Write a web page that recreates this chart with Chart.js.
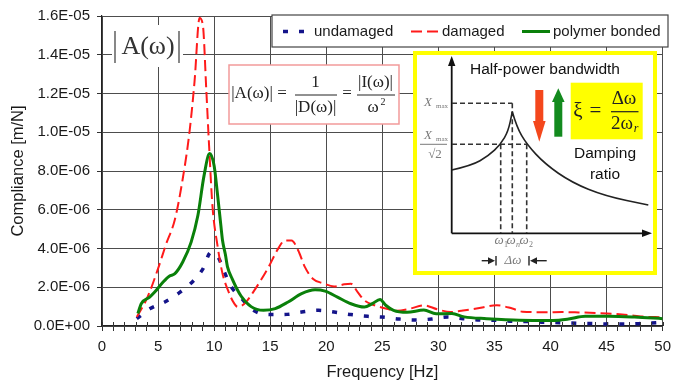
<!DOCTYPE html>
<html>
<head>
<meta charset="utf-8">
<script src="https://cdn.jsdelivr.net/npm/chart.js@4.4.1/dist/chart.umd.min.js"></script>
<style>
  html, body { margin: 0; padding: 0; background: #fff; }
</style>
</head>
<body>
<canvas id="chart" width="678" height="383"></canvas>
<script>
// values, compliance in units of 1E-06 m/N
const undamagedHz = [3.1, 4.3, 5.6, 6.9, 8.1, 9.0, 9.7, 10.4, 10.9, 11.5, 12.4, 13.5, 15.0, 16.5, 17.8, 19.3, 20.7, 22.2, 23.7, 25.0, 26.5, 27.9, 29.4, 30.8, 32.2, 33.7, 35.2, 36.6, 38.1, 39.4, 40.9, 42.3, 43.7, 45.2, 46.7, 48.2, 49.6];
const undamagedVal = [0.38, 0.9, 1.24, 1.72, 2.3, 2.95, 3.8, 3.5, 2.8, 2.05, 1.45, 0.81, 0.59, 0.6, 0.72, 0.81, 0.72, 0.59, 0.5, 0.46, 0.36, 0.31, 0.36, 0.46, 0.38, 0.31, 0.29, 0.25, 0.23, 0.19, 0.17, 0.14, 0.13, 0.1, 0.1, 0.13, 0.17];

const damagedHz = [3.1, 4.0, 5.0, 5.7, 6.5, 7.2, 7.8, 8.25, 8.7, 9.0, 9.3, 9.55, 9.85, 10.3, 10.75, 11.3, 11.7, 12.1, 12.7, 13.6, 14.85, 15.7, 16.3, 16.9, 17.5, 18.1, 18.8, 19.7, 20.7, 21.6, 22.2, 22.8, 23.4, 24.3, 25.3, 26.3, 27.5, 28.7, 29.9, 31.1, 32.2, 33.4, 35.2, 36.6, 37.5, 39.6, 41.0, 42.5, 44.0, 45.5, 47.2, 48.4, 49.8];
const damagedVal = [0.46, 1.41, 2.96, 4.2, 5.5, 7.6, 10.0, 12.6, 15.9, 15.5, 12.2, 9.3, 6.2, 4.15, 2.7, 1.75, 1.25, 0.99, 1.15, 1.85, 3.04, 3.98, 4.41, 4.41, 3.9, 3.04, 2.44, 2.21, 2.04, 2.15, 2.18, 1.75, 1.32, 1.07, 0.9, 0.79, 0.9, 1.07, 0.86, 0.72, 0.8, 0.9, 1.07, 0.9, 0.74, 0.71, 0.72, 0.7, 0.67, 0.63, 0.55, 0.48, 0.45];

const bondedHz = [3.2, 3.5, 4.25, 4.7, 5.45, 6.0, 6.5, 7.2, 7.95, 8.55, 9.1, 9.6, 10.0, 10.3, 10.6, 10.75, 11.0, 11.2, 11.6, 12.4, 13.3, 14.4, 15.45, 16.6, 17.8, 19.0, 19.9, 21.0, 22.2, 23.4, 24.1, 24.8, 25.3, 26.0, 27.2, 28.7, 29.8, 31.2, 32.3, 34.3, 37.2, 40.2, 41.6, 43.1, 45.2, 47.5, 50.0];
const bondedVal = [0.64, 1.15, 1.49, 1.75, 2.27, 2.57, 2.7, 3.3, 4.33, 5.7, 7.76, 8.9, 8.27, 6.8, 5.19, 4.41, 3.7, 3.04, 2.45, 1.55, 1.0, 0.81, 0.9, 1.24, 1.67, 1.87, 1.8, 1.49, 1.15, 0.98, 1.15, 1.37, 1.07, 0.81, 0.71, 0.82, 0.63, 0.64, 0.47, 0.38, 0.3, 0.29, 0.36, 0.5, 0.5, 0.46, 0.38];

const seriesNames = ['undamaged', 'damaged', 'polymer bonded'];
const yStep = 2;     // 2.0E-06
const yMax = 16;     // 1.6E-05
const xMax = 50;

const sans = '"Liberation Sans", Arial, sans-serif';
const serif = '"Liberation Serif", "Times New Roman", serif';

function sci(v) {
    const parts = v.toExponential(1).split('e');
    const n = parseInt(parts[1], 10);
    return parts[0] + 'E' + (n < 0 ? '-' : '+') + String(Math.abs(n)).padStart(2, '0');
}

function pairs(xs, ys) {
    return xs.map((x, i) => ({ x: x, y: ys[i] }));
}

function line(ctx, x1, y1, x2, y2) {
    ctx.beginPath();
    ctx.moveTo(x1, y1);
    ctx.lineTo(x2, y2);
    ctx.stroke();
}

function tri(ctx, pts) {
    ctx.beginPath();
    ctx.moveTo(pts[0], pts[1]);
    ctx.lineTo(pts[2], pts[3]);
    ctx.lineTo(pts[4], pts[5]);
    ctx.closePath();
    ctx.fill();
}

function smooth(ctx, pts) {
    ctx.beginPath();
    ctx.moveTo(pts[0][0], pts[0][1]);
    for (let i = 1; i < pts.length - 1; i++) {
        const mx = (pts[i][0] + pts[i + 1][0]) / 2;
        const my = (pts[i][1] + pts[i + 1][1]) / 2;
        ctx.quadraticCurveTo(pts[i][0], pts[i][1], mx, my);
    }
    const last = pts[pts.length - 1];
    ctx.lineTo(last[0], last[1]);
    ctx.stroke();
}

// legend, formula boxes and the half-power inset
const overlay = {
    id: 'overlay',
    afterDraw(chart) {
        const ctx = chart.ctx;
        const ca = chart.chartArea;
        const xs = chart.scales.x;
        ctx.save();

        // minor ticks crossing the x axis
        ctx.strokeStyle = '#333';
        ctx.lineWidth = 1;
        for (let v = 0; v <= xMax; v++) {
            const px = Math.round(xs.getPixelForValue(v)) + 0.5;
            line(ctx, px, ca.bottom, px, ca.bottom - 4);
        }

        // legend
        ctx.fillStyle = '#fff';
        ctx.fillRect(272, 15, 396, 32);
        ctx.strokeStyle = '#444';
        ctx.lineWidth = 1.2;
        ctx.strokeRect(272, 15, 396, 32);
        const sampleX = [283, 411, 522];
        ctx.font = '15px ' + sans;
        ctx.textBaseline = 'middle';
        ctx.textAlign = 'left';
        chart.data.datasets.forEach((ds, i) => {
            ctx.strokeStyle = ds.borderColor;
            ctx.lineWidth = ds.borderWidth;
            ctx.setLineDash(ds.borderDash || []);
            line(ctx, sampleX[i], 31.5, sampleX[i] + 28, 31.5);
            ctx.setLineDash([]);
            ctx.fillStyle = '#1a1a1a';
            ctx.fillText(ds.label, sampleX[i] + 31, 32);
        });

        // |A(w)| label
        ctx.fillStyle = '#fff';
        ctx.fillRect(112, 25, 71, 42);
        ctx.fillStyle = '#333';
        ctx.textAlign = 'center';
        ctx.font = '26px ' + serif;
        ctx.fillText('A(ω)', 148, 47);
        ctx.strokeStyle = '#555';
        ctx.lineWidth = 1.4;
        line(ctx, 115, 31, 115, 63);
        line(ctx, 179, 31, 179, 63);

        // |A| = 1/|D| = |I|/w^2
        ctx.fillStyle = '#fff';
        ctx.fillRect(229, 65, 170, 59);
        ctx.strokeStyle = '#f29a9a';
        ctx.lineWidth = 1.5;
        ctx.strokeRect(229, 65, 170, 59);
        ctx.fillStyle = '#222';
        ctx.font = '17px ' + serif;
        ctx.fillText('|A(ω)|', 252, 94);
        ctx.fillText('=', 282, 94);
        ctx.fillText('1', 315.5, 83);
        ctx.fillText('|D(ω)|', 315.5, 108);
        ctx.fillText('=', 347, 94);
        ctx.fillText('|I(ω)|', 375.5, 83);
        ctx.fillText('ω', 373, 108);
        ctx.font = '10px ' + serif;
        ctx.fillText('2', 383, 102);
        ctx.strokeStyle = '#222';
        ctx.lineWidth = 1;
        line(ctx, 295, 95, 337, 95);
        line(ctx, 357, 95, 395, 95);

        // inset frame
        ctx.fillStyle = '#fff';
        ctx.fillRect(413, 51, 244, 224);
        ctx.strokeStyle = '#ffff00';
        ctx.lineWidth = 4;
        ctx.strokeRect(415, 53, 240, 220);

        // inset axes
        ctx.strokeStyle = '#111';
        ctx.fillStyle = '#111';
        ctx.lineWidth = 1.8;
        line(ctx, 451.7, 233.3, 451.7, 63);
        line(ctx, 451.7, 233.3, 645, 233.3);
        tri(ctx, [451.7, 56, 448, 66, 455.4, 66]);
        tri(ctx, [652, 233.3, 642, 229.5, 642, 237.1]);

        // dashed guides
        ctx.strokeStyle = '#333';
        ctx.lineWidth = 1.6;
        ctx.setLineDash([5, 3]);
        line(ctx, 452, 103.3, 512.3, 103.3);
        line(ctx, 512.3, 103.3, 512.3, 233);
        line(ctx, 452, 144.3, 526.7, 144.3);
        line(ctx, 500.7, 144.3, 500.7, 233);
        line(ctx, 526.7, 144.3, 526.7, 233);
        ctx.setLineDash([]);

        // resonance sketch
        ctx.strokeStyle = '#222';
        ctx.lineWidth = 1.6;
        smooth(ctx, [[451.7, 170], [471.7, 165.5], [488.3, 156], [500.7, 144.3], [508.3, 131], [512.3, 111.7]]);
        smooth(ctx, [[512.3, 111.7], [516.7, 127], [526.7, 144.3], [545, 164], [571.7, 182.5], [605, 196], [648.3, 205]]);

        // grey symbol labels
        ctx.fillStyle = '#7a7a7a';
        ctx.font = 'italic 13px ' + serif;
        ctx.fillText('X', 428, 103);
        ctx.fillText('X', 428, 136);
        ctx.font = '7px ' + serif;
        ctx.fillText('max', 442, 106);
        ctx.fillText('max', 442, 139);
        ctx.font = '13px ' + serif;
        ctx.fillText('√2', 435, 155);
        ctx.strokeStyle = '#7a7a7a';
        ctx.lineWidth = 1;
        line(ctx, 420, 144.3, 447, 144.3);

        ctx.font = 'italic 13px ' + serif;
        ctx.fillText('ω', 499, 241);
        ctx.fillText('ω', 511, 241);
        ctx.fillText('ω', 524, 241);
        ctx.fillText('Δω', 513, 260.5);
        ctx.font = '8px ' + serif;
        ctx.fillText('1', 506, 245);
        ctx.font = 'italic 8px ' + serif;
        ctx.fillText('n', 518, 245);
        ctx.font = '8px ' + serif;
        ctx.fillText('2', 531, 245);

        // delta-omega arrows
        ctx.strokeStyle = '#222';
        ctx.fillStyle = '#222';
        ctx.lineWidth = 1.4;
        line(ctx, 481.7, 260.7, 490, 260.7);
        tri(ctx, [495, 260.7, 488, 257.2, 488, 264.2]);
        line(ctx, 496, 256, 496, 265.5);
        line(ctx, 536, 260.7, 546.7, 260.7);
        tri(ctx, [530, 260.7, 537, 257.2, 537, 264.2]);
        line(ctx, 529, 256, 529, 265.5);

        // title text
        ctx.fillStyle = '#111';
        ctx.font = '15.5px ' + sans;
        ctx.fillText('Half-power bandwidth', 545, 70);
        ctx.fillText('Damping', 605, 154);
        ctx.fillText('ratio', 605, 175);

        // red down / green up arrows
        ctx.fillStyle = '#f4471c';
        ctx.fillRect(535.3, 90, 8, 32);
        tri(ctx, [533, 121, 545.6, 121, 539.3, 141.7]);
        ctx.fillStyle = '#138a1e';
        ctx.fillRect(554.3, 101, 8, 35.7);
        tri(ctx, [552, 102, 564.6, 102, 558.3, 88.3]);

        // damping ratio formula
        ctx.fillStyle = '#ffff00';
        ctx.fillRect(570.7, 82.7, 72, 56.6);
        ctx.fillStyle = '#222';
        ctx.font = '21px ' + serif;
        ctx.fillText('ξ', 578, 111);
        ctx.fillText('=', 595.5, 111);
        ctx.font = '19px ' + serif;
        ctx.fillText('Δω', 624, 99);
        ctx.fillText('2ω', 622, 124);
        ctx.font = 'italic 12px ' + serif;
        ctx.fillText('r', 636, 129);
        ctx.strokeStyle = '#222';
        ctx.lineWidth = 1.2;
        line(ctx, 611, 111.7, 638.5, 111.7);

        ctx.restore();
    }
};

const tickFont = { family: sans, size: 15 };
const titleFont = { family: sans, size: 16.5 };

new Chart(document.getElementById('chart'), {
    type: 'line',
    data: {
        datasets: [{
            label: seriesNames[0],
            data: pairs(undamagedHz, undamagedVal),
            borderColor: '#14148a',
            borderWidth: 3.5,
            borderDash: [5, 11],
            order: 3
        }, {
            label: seriesNames[1],
            data: pairs(damagedHz, damagedVal),
            borderColor: '#ff1a1a',
            borderWidth: 2,
            borderDash: [11, 5],
            order: 2
        }, {
            label: seriesNames[2],
            data: pairs(bondedHz, bondedVal),
            borderColor: '#0a800a',
            borderWidth: 3,
            order: 1
        }]
    },
    options: {
        responsive: false,
        devicePixelRatio: 1,
        animation: false,
        layout: { padding: { left: 0, top: 15, right: 10, bottom: 0 } },
        elements: {
            point: { radius: 0 },
            line: { cubicInterpolationMode: 'monotone', fill: false, borderCapStyle: 'butt' }
        },
        scales: {
            x: {
                type: 'linear',
                min: 0,
                max: xMax,
                ticks: {
                    stepSize: 1,
                    autoSkip: false,
                    maxRotation: 0,
                    padding: 7,
                    font: tickFont,
                    color: '#1a1a1a',
                    callback: v => (v % 5 === 0 ? v : '')
                },
                grid: {
                    color: c => (c.tick && c.tick.value % 5 === 0 ? '#4d4d4d' : 'rgba(0,0,0,0)'),
                    tickColor: '#333',
                    tickLength: 5,
                    lineWidth: 1
                },
                border: { color: '#222', width: 1.2 },
                title: {
                    display: true,
                    text: 'Frequency [Hz]',
                    font: titleFont,
                    color: '#1a1a1a',
                    padding: { top: 0, bottom: 1 }
                },
                afterFit: s => { s.height = 57; }
            },
            y: {
                min: 0,
                max: yMax,
                ticks: {
                    stepSize: yStep,
                    padding: 7,
                    font: tickFont,
                    color: '#1a1a1a',
                    callback: v => sci(v * 1e-6)
                },
                grid: { color: '#4d4d4d', tickColor: '#333', tickLength: 5, lineWidth: 1 },
                border: { color: '#222', width: 1.2 },
                title: {
                    display: true,
                    text: 'Compliance [m/N]',
                    font: titleFont,
                    color: '#1a1a1a',
                    padding: { top: 9, bottom: 0 }
                },
                afterFit: s => { s.width = 102; }
            }
        },
        plugins: {
            legend: { display: false },
            tooltip: { enabled: false }
        }
    },
    plugins: [overlay]
});
</script>
</body>
</html>
